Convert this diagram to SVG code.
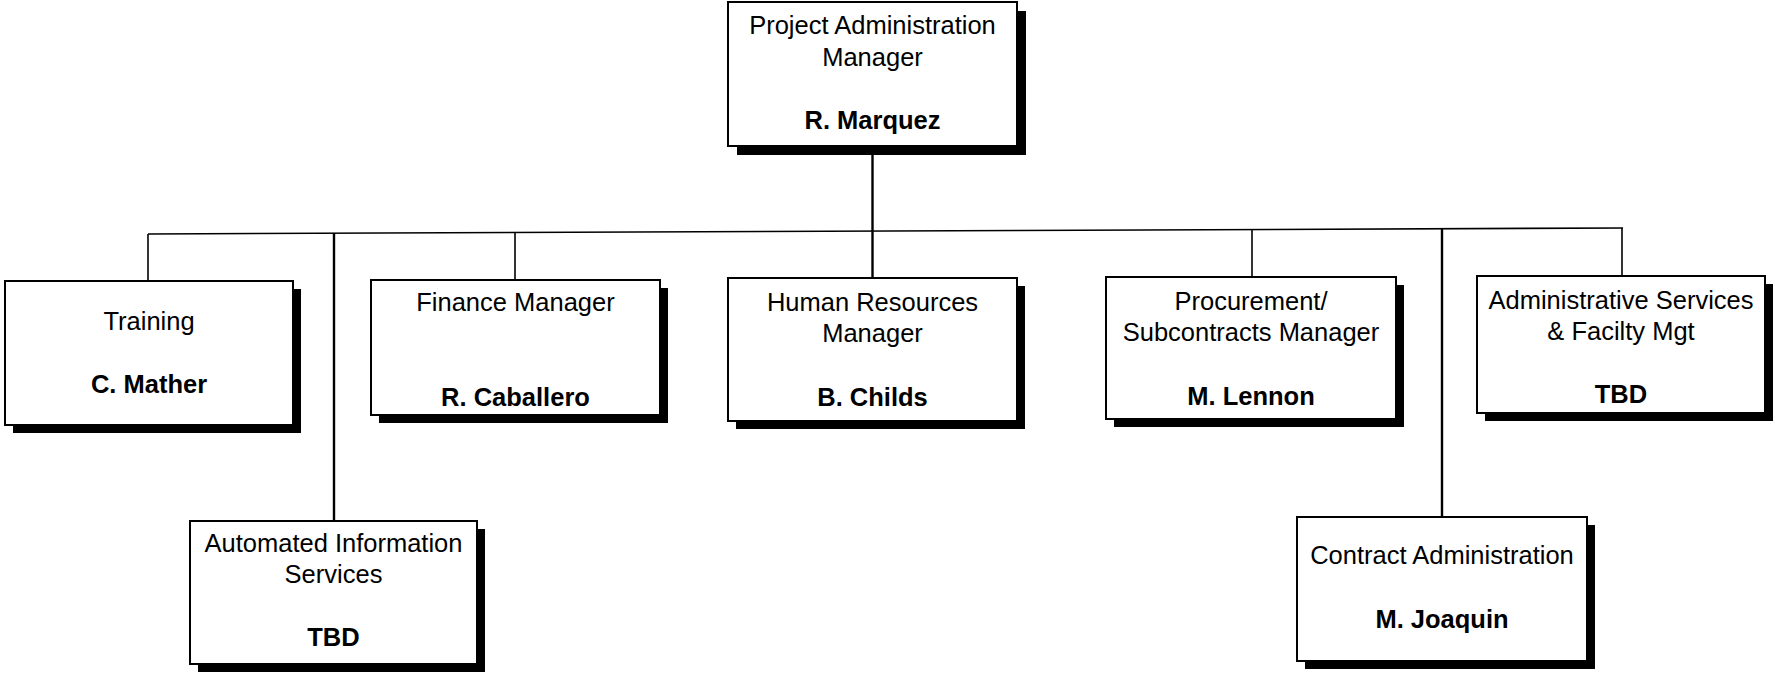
<svg xmlns="http://www.w3.org/2000/svg" width="1775" height="674" viewBox="0 0 1775 674">
<style>
.bg{fill:#ffffff}
.box{fill:#ffffff;stroke:#000;stroke-width:2}
.sh{fill:#000}
.t{font-family:"Liberation Sans",Arial,sans-serif;font-size:25.5px;fill:#000;text-anchor:middle}
.b{font-weight:bold}
.ln{stroke:#000;fill:none;stroke-width:1.6}
.lt{stroke:#000;fill:none;stroke-width:2.4}
</style>
<rect class="bg" x="0" y="0" width="1775" height="674"/>
<g id="connectors">
<line class="ln" x1="148" y1="234" x2="1623" y2="228"/>
<line class="lt" x1="872.5" y1="146" x2="872.5" y2="278"/>
<line class="ln" x1="148" y1="234" x2="148" y2="281"/>
<line class="lt" x1="334" y1="233.2" x2="334" y2="521"/>
<line class="ln" x1="515" y1="232.5" x2="515" y2="280"/>
<line class="ln" x1="1252" y1="229.5" x2="1252" y2="277"/>
<line class="lt" x1="1442" y1="228.7" x2="1442" y2="517"/>
<line class="ln" x1="1622" y1="228" x2="1622" y2="276"/>
</g>
<g id="pam">
<rect class="sh" x="737" y="11" width="289" height="144"/>
<rect class="box" x="728" y="2" width="289" height="144"/>
<text class="t" x="872.5" y="34">Project Administration</text>
<text class="t" x="872.5" y="66">Manager</text>
<text class="t b" x="872.5" y="129">R. Marquez</text>
</g>
<g id="training">
<rect class="sh" x="13" y="289" width="288" height="144"/>
<rect class="box" x="5" y="281" width="288" height="144"/>
<text class="t" x="149" y="330">Training</text>
<text class="t b" x="149" y="393">C. Mather</text>
</g>
<g id="finance">
<rect class="sh" x="379" y="288" width="289" height="135"/>
<rect class="box" x="371" y="280" width="289" height="135"/>
<text class="t" x="515.5" y="311">Finance Manager</text>
<text class="t b" x="515.5" y="406">R. Caballero</text>
</g>
<g id="hr">
<rect class="sh" x="736" y="286" width="289" height="143"/>
<rect class="box" x="728" y="278" width="289" height="143"/>
<text class="t" x="872.5" y="311">Human Resources</text>
<text class="t" x="872.5" y="342">Manager</text>
<text class="t b" x="872.5" y="406">B. Childs</text>
</g>
<g id="procurement">
<rect class="sh" x="1114" y="285" width="290" height="142"/>
<rect class="box" x="1106" y="277" width="290" height="142"/>
<text class="t" x="1251" y="310">Procurement/</text>
<text class="t" x="1251" y="341">Subcontracts Manager</text>
<text class="t b" x="1251" y="405">M. Lennon</text>
</g>
<g id="admin">
<rect class="sh" x="1485" y="284" width="288" height="137"/>
<rect class="box" x="1477" y="276" width="288" height="137"/>
<text class="t" x="1621" y="309">Administrative Services</text>
<text class="t" x="1621" y="340">&amp; Facilty Mgt</text>
<text class="t b" x="1621" y="403">TBD</text>
</g>
<g id="ais">
<rect class="sh" x="198" y="529" width="287" height="143"/>
<rect class="box" x="190" y="521" width="287" height="143"/>
<text class="t" x="333.5" y="552">Automated Information</text>
<text class="t" x="333.5" y="583">Services</text>
<text class="t b" x="333.5" y="646">TBD</text>
</g>
<g id="contract">
<rect class="sh" x="1305" y="525" width="290" height="144"/>
<rect class="box" x="1297" y="517" width="290" height="144"/>
<text class="t" x="1442" y="564">Contract Administration</text>
<text class="t b" x="1442" y="628">M. Joaquin</text>
</g>
</svg>
